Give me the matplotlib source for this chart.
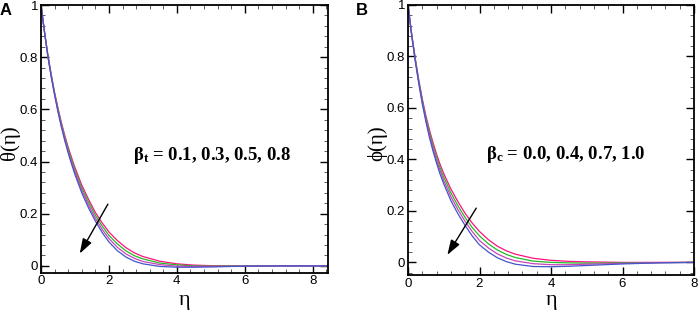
import matplotlib
matplotlib.use("Agg")
import matplotlib.pyplot as plt
from matplotlib.ticker import MultipleLocator, FuncFormatter

plt.rcParams['mathtext.fontset'] = 'custom'
plt.rcParams['mathtext.rm'] = 'Liberation Serif'
plt.rcParams['mathtext.bf'] = 'Liberation Serif:bold'
plt.rcParams['mathtext.it'] = 'Liberation Serif:italic'

# ---------------- data ----------------
eta_a = [0, 0.1, 0.2, 0.3, 0.4, 0.5, 0.6, 0.7, 0.8, 0.9, 1.0, 1.2, 1.4, 1.6, 1.8, 2.0,
         2.25, 2.5, 2.75, 3.0, 3.5, 4.0, 4.5, 5.0, 6.0, 7.0, 8.45]
theta_01 = [1, 0.90, 0.81, 0.735, 0.665, 0.605, 0.55, 0.50, 0.455, 0.415, 0.377, 0.31, 0.255, 0.205, 0.165, 0.13,
            0.097, 0.07, 0.05, 0.036, 0.018, 0.008, 0.003, 0.001, 0.0, 0.0, 0.0]
theta_03 = [1, 0.90, 0.808, 0.732, 0.662, 0.60, 0.544, 0.493, 0.448, 0.407, 0.368, 0.30, 0.244, 0.194, 0.153, 0.117,
            0.084, 0.058, 0.039, 0.027, 0.011, 0.004, 0.000, -0.001, 0.0, 0.0, 0.0]
theta_05 = [1, 0.90, 0.807, 0.728, 0.658, 0.595, 0.538, 0.487, 0.440, 0.398, 0.359, 0.29, 0.233, 0.183, 0.14, 0.105,
            0.071, 0.046, 0.029, 0.017, 0.005, -0.001, -0.002, -0.002, -0.001, 0.0, 0.0]
theta_08 = [1, 0.90, 0.805, 0.725, 0.655, 0.59, 0.532, 0.48, 0.433, 0.39, 0.35, 0.28, 0.222, 0.172, 0.128, 0.092,
            0.058, 0.034, 0.018, 0.008, -0.002, -0.005, -0.005, -0.004, -0.001, 0.0, 0.0]
beta_t = ["0.1", "0.3", "0.5", "0.8"]

eta_b = [0, 0.1, 0.2, 0.3, 0.4, 0.5, 0.6, 0.7, 0.8, 0.9, 1.0, 1.2, 1.4, 1.6, 1.8, 2.0,
         2.25, 2.5, 2.75, 3.0, 3.5, 4.0, 4.5, 5.0, 6.0, 7.0, 8.0]
phi_00 = [1, 0.89, 0.795, 0.71, 0.635, 0.57, 0.515, 0.465, 0.42, 0.38, 0.345, 0.285, 0.235, 0.19, 0.152, 0.12,
          0.088, 0.063, 0.045, 0.032, 0.016, 0.008, 0.004, 0.002, 0.0, 0.0, 0.0]
phi_04 = [1, 0.888, 0.792, 0.705, 0.629, 0.562, 0.505, 0.454, 0.408, 0.367, 0.332, 0.27, 0.219, 0.174, 0.135, 0.103,
          0.072, 0.048, 0.031, 0.019, 0.005, 0.000, -0.002, -0.003, -0.002, -0.001, 0.0]
phi_07 = [1, 0.887, 0.788, 0.701, 0.622, 0.555, 0.495, 0.443, 0.397, 0.355, 0.318, 0.255, 0.204, 0.159, 0.119, 0.085,
          0.056, 0.033, 0.017, 0.006, -0.005, -0.009, -0.009, -0.007, -0.004, -0.001, 0.0]
phi_10 = [1, 0.885, 0.785, 0.696, 0.616, 0.547, 0.485, 0.432, 0.385, 0.342, 0.305, 0.24, 0.188, 0.143, 0.102, 0.068,
          0.04, 0.018, 0.003, -0.007, -0.016, -0.017, -0.015, -0.012, -0.006, -0.002, 0.0]
beta_c = ["0.0", "0.4", "0.7", "1.0"]

colors = ['#ff1180', '#22bb22', '#cc44bb', '#4455cc']

W, H = 699, 312
fig = plt.figure(figsize=(W / 100, H / 100), dpi=100)


def make_ax(l, r, t, b):
    return fig.add_axes([l / W, 1 - b / H, (r - l) / W, (b - t) / H])


axA = make_ax(41, 328, 5, 272.7)
axB = make_ax(408, 694, 5, 275)

serif = ['Liberation Serif', 'DejaVu Serif']


def style(ax, xmax, ymin):
    ax.set_xlim(0, xmax)
    ax.set_ylim(ymin, 1.0)
    ax.xaxis.set_major_locator(MultipleLocator(2))
    ax.xaxis.set_minor_locator(MultipleLocator(0.4))
    ax.yaxis.set_major_locator(MultipleLocator(0.2))
    ax.yaxis.set_minor_locator(MultipleLocator(0.04))
    ax.tick_params(which='both', direction='in', top=True, right=True,
                   labelsize=9.5, width=1.0, pad=2)
    ax.tick_params(which='major', length=6)
    ax.tick_params(which='minor', length=3, width=0.6, color='#444444')
    ax.yaxis.set_major_formatter(FuncFormatter(
        lambda v, p: '0' if abs(v) < 1e-9 else ('1' if abs(v - 1) < 1e-9 else f'{v:.1f}')))
    for lab in ax.get_xticklabels() + ax.get_yticklabels():
        lab.set_fontfamily('Liberation Sans')
    for s in ax.spines.values():
        s.set_linewidth(1.3)


for ys, c in zip([theta_01, theta_03, theta_05, theta_08], colors):
    axA.plot(eta_a, ys, color=c, lw=0.9)
for ys, c in zip([phi_00, phi_04, phi_07, phi_10], colors):
    axB.plot(eta_b, ys, color=c, lw=0.9)

style(axA, 8.45, -0.026)
style(axB, 8.0, -0.049)

# axis labels placed in figure coordinates
fig.text(10 / W, 1 - 143 / H, 'θ(η)', family=serif, fontsize=15, rotation=90, va='center', ha='center')
fig.text(377 / W, 1 - 143 / H, 'ϕ(η)', family=serif, fontsize=15, rotation=90, va='center', ha='center')
fig.text(184 / W, 1 - 300 / H, 'η', family=serif, fontsize=16, va='center', ha='center')
fig.text(552 / W, 1 - 300 / H, 'η', family=serif, fontsize=16, va='center', ha='center')

axA.annotate('', xy=(1.1, 0.038), xytext=(2.01, 0.246),
             arrowprops=dict(arrowstyle='-|>,head_length=0.9,head_width=0.3', color='black', lw=1.0))
axB.annotate('', xy=(1.06, 0.02), xytext=(1.95, 0.22),
             arrowprops=dict(arrowstyle='-|>,head_length=0.9,head_width=0.3', color='black', lw=1.0))

axA.text(2.72, 0.425, r'β$_{\mathbf{t}}$ = ' + ', '.join(beta_t), family=serif,
         fontweight='bold', fontsize=13.5, va='center', ha='left')
axB.text(2.19, 0.42, r'β$_{\mathbf{c}}$ = ' + ', '.join(beta_c), family=serif,
         fontweight='bold', fontsize=13.5, va='center', ha='left')

fig.text(0 / W, 1 - 3 / H, 'A', family='Liberation Sans', fontweight='bold', fontsize=12, va='top', ha='left')
fig.text(356 / W, 1 - 3 / H, 'B', family='Liberation Sans', fontweight='bold', fontsize=12, va='top', ha='left')

fig.savefig('out.png', dpi=100)
